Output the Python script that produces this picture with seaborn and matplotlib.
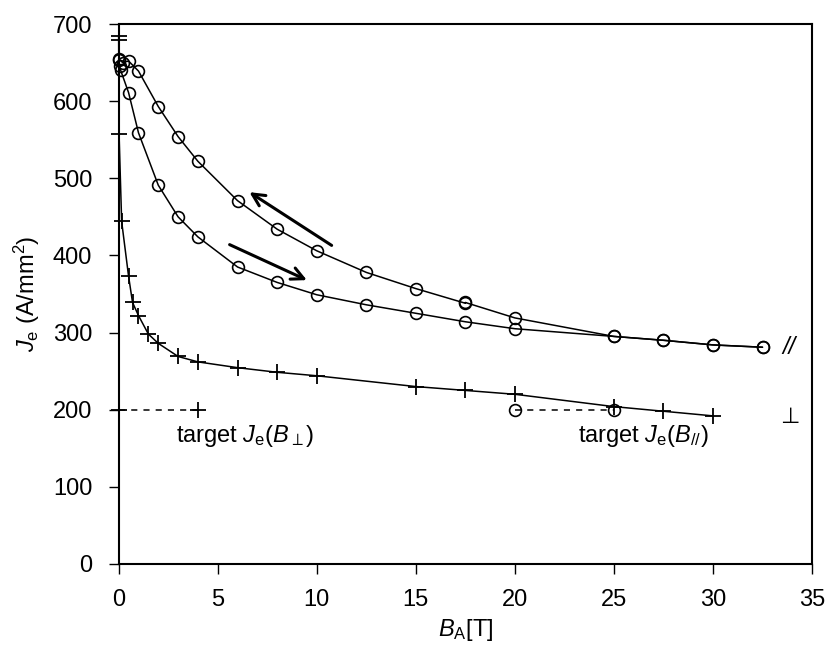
import matplotlib
matplotlib.use("Agg")
import matplotlib.pyplot as plt
import seaborn as sns
import pandas as pd

# Engineering current density versus applied field
# Parallel field, increasing sweep (circles)
b_par_up = [0, 0.05, 0.1, 0.5, 1, 2, 3, 4, 6, 8, 10, 12.5, 15, 17.5, 20, 25, 27.5, 30, 32.5]
je_par_up = [653, 645, 640, 611, 559, 491, 450, 424, 385, 365, 349, 336, 325, 314, 305, 295, 290, 284, 281]

# Parallel field, decreasing sweep (circles)
b_par_down = [32.5, 30, 27.5, 25, 20, 17.5, 17.5, 15, 12.5, 10, 8, 6, 4, 3, 2, 1, 0.5, 0.2, 0]
je_par_down = [281, 284, 290, 295, 319, 339, 338, 357, 378, 406, 434, 471, 522, 554, 593, 639, 652, 650, 655]

# Perpendicular field (crosses)
b_perp = [0, 0, 0.02, 0.15, 0.5, 0.7, 1, 1.5, 2, 3, 4, 6, 8, 10, 15, 17.5, 20, 25, 27.5, 30]
je_perp = [685, 679, 557, 444, 373, 339, 322, 298, 286, 269, 262, 254.5, 248.5, 244, 230, 225, 220, 204, 198, 192]

# Target values
b_target_perp = [0, 4]
je_target_perp = [200, 200]
b_target_par = [20, 25]
je_target_par = [200, 200]

sns.set_theme(style="white")
plt.rcParams["font.family"] = ["Liberation Sans", "DejaVu Sans"]
plt.rcParams["mathtext.fontset"] = "custom"
plt.rcParams["mathtext.rm"] = "Liberation Sans"
plt.rcParams["mathtext.it"] = "Liberation Sans:italic"
plt.rcParams["mathtext.bf"] = "Liberation Sans:bold"
plt.rcParams["text.color"] = "black"
plt.rcParams["axes.labelcolor"] = "black"
plt.rcParams["xtick.color"] = "black"
plt.rcParams["ytick.color"] = "black"

fig = plt.figure(figsize=(8.27, 6.47), dpi=100)
ax = fig.add_axes([0.1435, 0.1283, 0.9819 - 0.1435, 0.9629 - 0.1283])

line_kw = dict(color="black", linewidth=1.1, estimator=None, sort=False, ax=ax,
               clip_on=False)
circ_kw = dict(marker="o", markersize=8.5, markerfacecolor="none",
               markeredgecolor="black", markeredgewidth=1.2)
cross_kw = dict(marker="+", markersize=12, markeredgecolor="black",
                markeredgewidth=1.3)

sns.lineplot(data=pd.DataFrame({"B": b_par_up, "J": je_par_up}), x="B", y="J",
             **line_kw, **circ_kw)
sns.lineplot(data=pd.DataFrame({"B": b_par_down, "J": je_par_down}), x="B", y="J",
             **line_kw, **circ_kw)
sns.lineplot(data=pd.DataFrame({"B": b_perp, "J": je_perp}), x="B", y="J",
             **line_kw, **cross_kw)
sns.lineplot(data=pd.DataFrame({"B": b_target_perp, "J": je_target_perp}), x="B", y="J",
             linestyle=(0, (4, 4)), **line_kw, **cross_kw)
sns.lineplot(data=pd.DataFrame({"B": b_target_par, "J": je_target_par}), x="B", y="J",
             linestyle=(0, (4, 4)), **line_kw, **circ_kw)

# Sweep direction arrows
ax.annotate("", xy=(6.6, 482), xytext=(10.75, 413),
            arrowprops=dict(arrowstyle="->", color="black", lw=2.2,
                            mutation_scale=22, shrinkA=0, shrinkB=0))
ax.annotate("", xy=(9.5, 368), xytext=(5.6, 414),
            arrowprops=dict(arrowstyle="->", color="black", lw=2.2,
                            mutation_scale=22, shrinkA=0, shrinkB=0))

fs = 17
ax.text(33.5, 281, "//", fontsize=fs, va="center", ha="left", style="italic")
ax.text(33.4, 190, "⊥", fontsize=fs - 1, va="center", ha="left",
        family=["DejaVu Sans"])
ax.text(2.9, 166, r"target $J_{\mathrm{e}}(B_{\perp})$", fontsize=fs,
        va="center", ha="left")
ax.text(23.2, 166, r"target $J_{\mathrm{e}}(B_{//})$", fontsize=fs,
        va="center", ha="left")

ax.set_xlim(0, 35)
ax.set_ylim(0, 700)
ax.set_xticks(range(0, 36, 5))
ax.set_yticks(range(0, 701, 100))
ax.tick_params(axis="both", labelsize=fs, direction="out", length=7,
               width=1, bottom=True, left=True)
ax.tick_params(axis="x", pad=11)
ax.tick_params(axis="y", pad=12)
for sp in ax.spines.values():
    sp.set_color("black")
    sp.set_linewidth(1.5)

ax.set_xlabel(r"$B_{\mathrm{A}}$[T]", fontsize=fs, va="center")
ax.xaxis.set_label_coords(0.5, -0.122)
ax.set_ylabel(r"$J_{\mathrm{e}}$ (A/mm$^{2}$)", fontsize=fs, va="center")
ax.yaxis.set_label_coords(-0.132, 0.5)

fig.savefig("out.png", dpi=100)
